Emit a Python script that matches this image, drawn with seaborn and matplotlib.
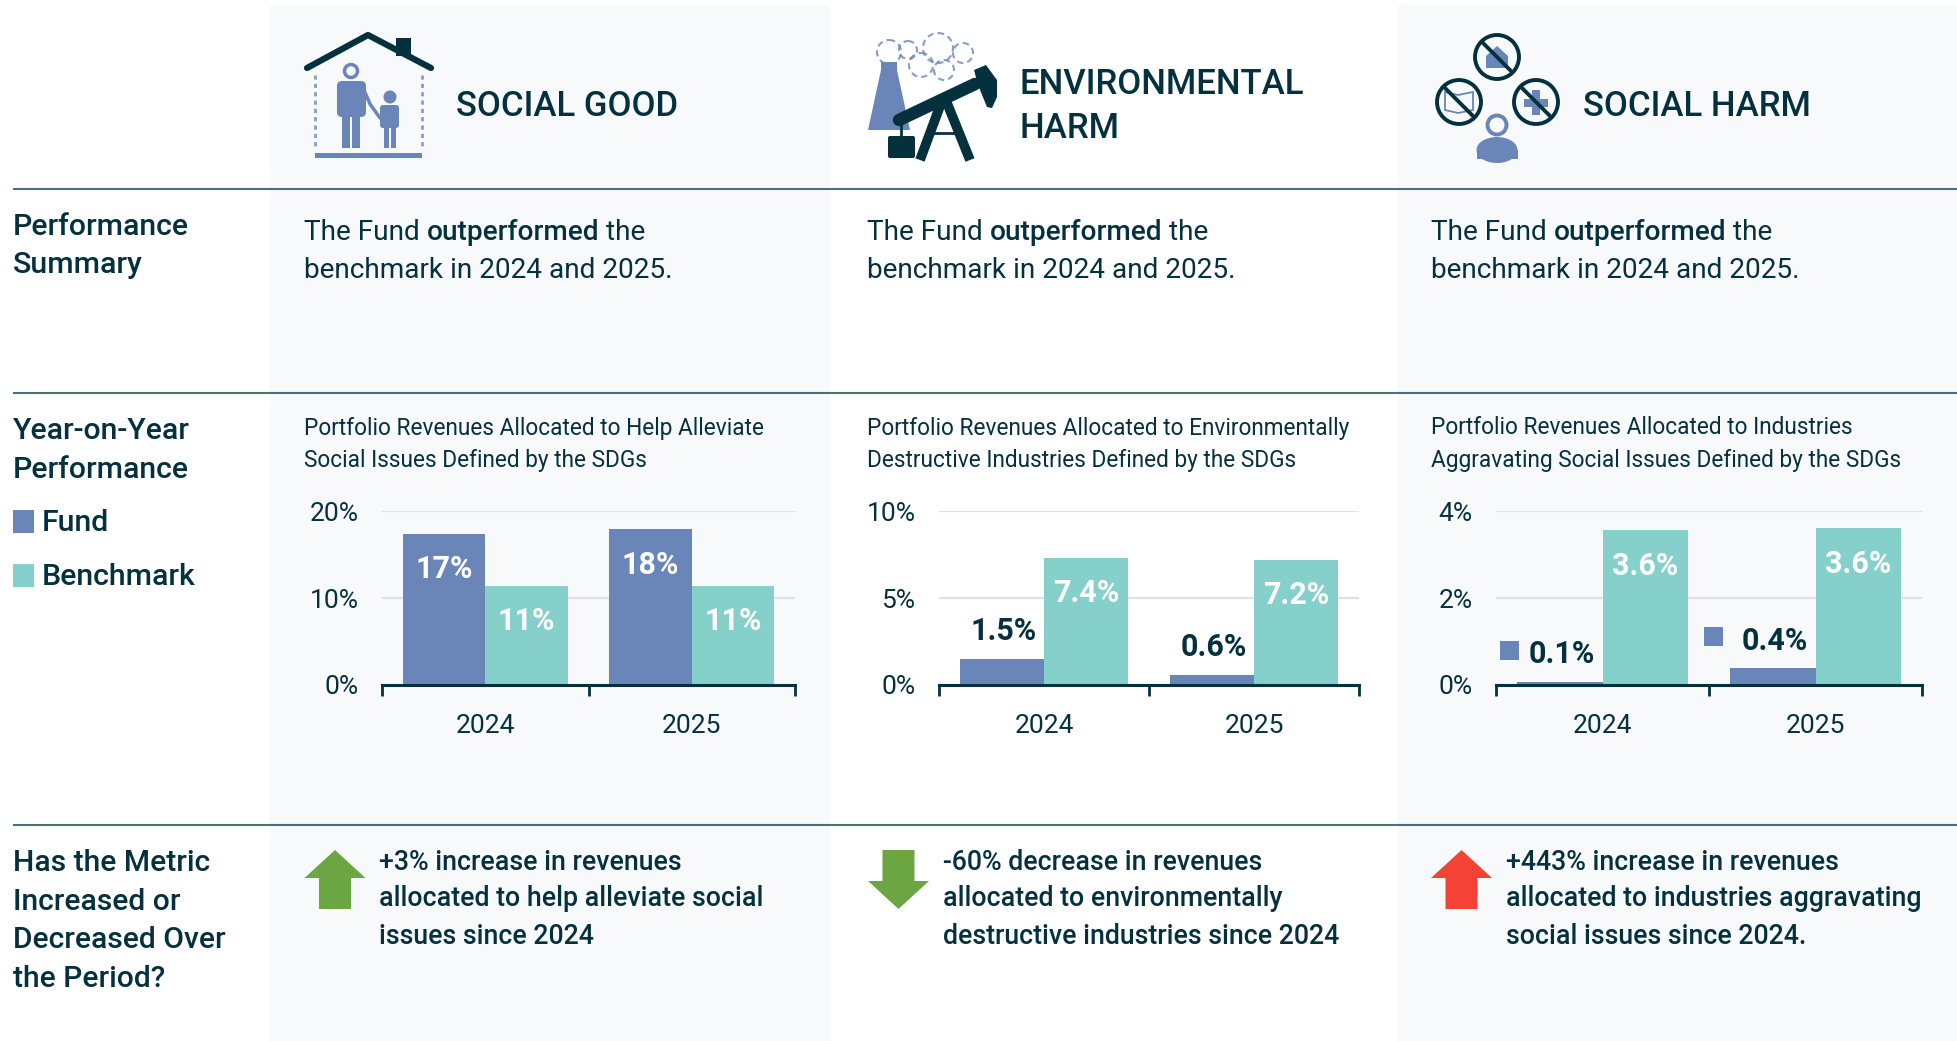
import matplotlib
matplotlib.use("Agg")
import matplotlib.pyplot as plt
import pandas as pd
import seaborn as sns
from matplotlib.patches import Circle, Ellipse, FancyBboxPatch, Polygon, Rectangle

W, H = 1957, 1041
DARK = "#05313f"
FUND = "#6a86b8"
BENCH = "#86d0cc"
PANEL = "#f7f9fb"
RULE = "#4f6f76"

years = ["2024", "2025"]
series_names = ["Fund", "Benchmark"]

good_fund = [17.4, 17.9]
good_bench = [11.4, 11.4]
good_fund_labels = ["17%", "18%"]
good_bench_labels = ["11%", "11%"]
good_ticks = [0, 10, 20]

env_fund = [1.5, 0.6]
env_bench = [7.3, 7.2]
env_fund_labels = ["1.5%", "0.6%"]
env_bench_labels = ["7.4%", "7.2%"]
env_ticks = [0, 5, 10]

harm_fund = [0.07, 0.38]
harm_bench = [3.56, 3.6]
harm_fund_labels = ["0.1%", "0.4%"]
harm_bench_labels = ["3.6%", "3.6%"]
harm_ticks = [0, 2, 4]

sns.set_theme(style="white")
plt.rcParams["font.family"] = ["Roboto", "DejaVu Sans"]

fig = plt.figure(figsize=(W / 100, H / 100), dpi=100, facecolor="white")
bg = fig.add_axes([0, 0, 1, 1], zorder=0)
bg.set_xlim(0, W)
bg.set_ylim(H, 0)
bg.axis("off")
renderer = fig.canvas.get_renderer()


def rich_line(x, y, pieces, size):
    # pieces of differing weight, laid out one after the other
    for txt, weight in pieces:
        t = bg.text(x, y, txt, fontsize=size, fontweight=weight, color=DARK, va="center", ha="left")
        x += t.get_window_extent(renderer).width


def lines_of_text(x, ys, rows, size, weight="normal"):
    for y, row in zip(ys, rows):
        bg.text(x, y, row, fontsize=size, fontweight=weight, color=DARK, va="center", ha="left")


def bar_panel(left, right, fund, bench, ticks, fund_labels, bench_labels, fund_inside=True):
    top, base = 511, 685
    ax = fig.add_axes([left / W, 1 - base / H, (right - left) / W, (base - top) / H], zorder=2)
    ax.patch.set_alpha(0)
    df = pd.DataFrame(
        {
            "year": years + years,
            "series": [series_names[0]] * 2 + [series_names[1]] * 2,
            "value": fund + bench,
        }
    )
    sns.barplot(
        data=df,
        x="year",
        y="value",
        hue="series",
        palette=[FUND, BENCH],
        saturation=1,
        linewidth=0,
        legend=False,
        ax=ax,
    )
    ax.set_xlim(-0.5, 1.5)
    ax.set_ylim(ticks[0], ticks[-1])
    ax.set_xlabel("")
    ax.set_ylabel("")
    ax.set_yticks(ticks)
    ax.set_yticklabels([f"{t}%" for t in ticks], fontsize=19, color=DARK)
    ax.grid(axis="y", color="#dfe2e5", linewidth=1.6)
    ax.set_axisbelow(True)
    ax.tick_params(axis="y", length=0, pad=17)
    ax.set_xticks([0, 1])
    ax.set_xticklabels(years, fontsize=19, color=DARK)
    ax.set_xticks([-0.5, 0.5, 1.5], minor=True)
    ax.tick_params(axis="x", which="major", length=0, pad=21)
    ax.tick_params(axis="x", which="minor", length=8, width=2, color=DARK, bottom=True, direction="out")
    sns.despine(ax=ax, left=True)
    ax.spines["bottom"].set_color(DARK)
    ax.spines["bottom"].set_linewidth(2.2)

    for bar, label in zip(ax.containers[1], bench_labels):
        ax.annotate(
            label,
            (bar.get_x() + bar.get_width() / 2, bar.get_height()),
            xytext=(0, -25.5),
            textcoords="offset points",
            ha="center",
            va="center",
            color="white",
            fontsize=22,
            fontweight="bold",
        )
    for bar, label in zip(ax.containers[0], fund_labels):
        cx = bar.get_x() + bar.get_width() / 2
        if fund_inside:
            ax.annotate(
                label,
                (cx, bar.get_height()),
                xytext=(0, -25.5),
                textcoords="offset points",
                ha="center",
                va="center",
                color="white",
                fontsize=22,
                fontweight="bold",
            )
        else:
            ax.annotate(
                label,
                (cx, bar.get_height()),
                xytext=(1, 20),
                textcoords="offset points",
                ha="center",
                va="center",
                color=DARK,
                fontsize=22,
                fontweight="bold",
            )
    return ax


# panels and rules
bg.add_patch(Rectangle((270, 5), 560, H - 5, color=PANEL, lw=0))
bg.add_patch(Rectangle((1398, 5), W - 1398, H - 5, color=PANEL, lw=0))
for y in [189, 393, 825]:
    bg.plot([13, W], [y, y], color=RULE, lw=1.5, solid_capstyle="butt")

# row headings
lines_of_text(13, [227, 265], ["Performance", "Summary"], 21.8, "medium")
lines_of_text(13, [431, 470], ["Year-on-Year", "Performance"], 21.8, "medium")
lines_of_text(42, [523, 577], series_names, 21.8, "medium")
bg.add_patch(Rectangle((13, 510), 21, 23, color=FUND, lw=0))
bg.add_patch(Rectangle((13, 564), 21, 23, color=BENCH, lw=0))
lines_of_text(
    13, [863, 902, 940, 979], ["Has the Metric", "Increased or", "Decreased Over", "the Period?"], 21.6, "medium"
)

# column headings
lines_of_text(456, [106], ["SOCIAL GOOD"], 25, "medium")
lines_of_text(1020, [84, 128], ["ENVIRONMENTAL", "HARM"], 25, "medium")
lines_of_text(1583, [106], ["SOCIAL HARM"], 25, "medium")

# house icon
bg.plot([307, 368, 431], [68, 35, 68], color=DARK, lw=4.5, solid_capstyle="round", solid_joinstyle="round")
bg.add_patch(Rectangle((396, 38), 15, 18, color=DARK, lw=0))
for x in [315, 422]:
    bg.plot([x, x], [75, 146], color=FUND, lw=2, ls=(0, (1.5, 1.5)), alpha=0.8)
bg.add_patch(Rectangle((315, 153), 107, 5, color=FUND, lw=0))
bg.add_patch(Circle((351, 71), 6.5, fc="none", ec=FUND, lw=2.5))
bg.add_patch(FancyBboxPatch((337, 81), 29, 36, boxstyle="round,pad=0,rounding_size=5", color=FUND, lw=0))
bg.add_patch(Rectangle((342, 110), 8, 38, color=FUND, lw=0))
bg.add_patch(Rectangle((352, 110), 8, 38, color=FUND, lw=0))
bg.plot([364, 370, 380], [90, 104, 118], color=FUND, lw=2.5)
bg.add_patch(Circle((390, 97), 6.5, color=FUND, lw=0))
bg.add_patch(FancyBboxPatch((380, 105), 19, 23, boxstyle="round,pad=0,rounding_size=3", color=FUND, lw=0))
bg.add_patch(Rectangle((384, 124), 5, 24, color=FUND, lw=0))
bg.add_patch(Rectangle((391, 124), 5, 24, color=FUND, lw=0))

# chimney and oil pump icon
bg.add_patch(Polygon([(881, 70), (897, 70), (910, 130), (868, 130)], color=FUND, lw=0))
bg.add_patch(Rectangle((881, 62), 16, 8, color=FUND, lw=0))
for cx, cy, r in [(889, 52, 12), (908, 50, 9), (938, 48, 15), (963, 53, 10), (921, 65, 12), (944, 70, 10)]:
    bg.add_patch(Circle((cx, cy), r, fc="none", ec=FUND, lw=1.5, ls=(0, (3, 2)), alpha=0.8))
bg.plot([899, 975], [120, 84], color=DARK, lw=9, solid_capstyle="round")
bg.add_patch(
    Polygon([(974, 70), (986, 65), (997, 80), (997, 97), (992, 108), (987, 107), (978, 85)], color=DARK, lw=0)
)
bg.plot([943, 920], [98, 160], color=DARK, lw=7, solid_capstyle="butt")
bg.plot([945, 970], [98, 160], color=DARK, lw=7, solid_capstyle="butt")
bg.plot([934, 956], [133, 133], color=DARK, lw=2)
bg.plot([901, 901], [120, 136], color=DARK, lw=2)
bg.add_patch(FancyBboxPatch((888, 136), 27, 22, boxstyle="round,pad=0,rounding_size=2", color=DARK, lw=0))
bg.add_patch(Circle((945, 98), 2.5, color=FUND, lw=0))
bg.add_patch(Circle((901, 119), 2.5, color=FUND, lw=0))

# prohibited signs icon
for cx, cy in [(1497, 57), (1459, 102), (1536, 102)]:
    bg.add_patch(Circle((cx, cy), 22, fc="none", ec=DARK, lw=2.8, zorder=4))
    bg.plot([cx - 15, cx + 15], [cy - 15, cy + 15], color=DARK, lw=2.8, zorder=4)
bg.add_patch(Polygon([(1486, 56), (1497, 46), (1508, 56), (1508, 68), (1486, 68)], color=FUND, lw=0))
bg.add_patch(Polygon([(1445, 92), (1458, 95), (1473, 92), (1473, 110), (1458, 113), (1445, 110)], fc="none", ec=FUND, lw=1.3))
bg.add_patch(Rectangle((1532, 90), 8, 25, color=FUND, lw=0))
bg.add_patch(Rectangle((1524, 99), 24, 8, color=FUND, lw=0))
bg.add_patch(Circle((1497, 125), 9.5, fc="none", ec=FUND, lw=2.8))
bg.add_patch(Ellipse((1497, 150), 41, 26, color=FUND, lw=0))
bg.add_patch(Rectangle((1477, 150), 41, 9, color=FUND, lw=0))

# summary text
for x in [304, 867, 1431]:
    rich_line(x, 232, [("The Fund ", "normal"), ("outperformed", "medium"), (" the", "normal")], 20.2)
    lines_of_text(x, [270], ["benchmark in 2024 and 2025."], 20.2)

# chart headings
lines_of_text(304, [428, 460], ["Portfolio Revenues Allocated to Help Alleviate", "Social Issues Defined by the SDGs"], 16.3)
lines_of_text(
    867, [428, 460], ["Portfolio Revenues Allocated to Environmentally", "Destructive Industries Defined by the SDGs"], 16.3
)
lines_of_text(
    1431, [428, 460], ["Portfolio Revenues Allocated to Industries", "Aggravating Social Issues Defined by the SDGs"], 16.3
)

# bar charts
bar_panel(382, 795, good_fund, good_bench, good_ticks, good_fund_labels, good_bench_labels)
bar_panel(939, 1359, env_fund, env_bench, env_ticks, env_fund_labels, env_bench_labels, fund_inside=False)
ax_harm = bar_panel(1496, 1922, harm_fund, harm_bench, harm_ticks, harm_fund_labels, harm_bench_labels, fund_inside=False)

# little key squares beside the third chart's fund labels
fig.canvas.draw()
for bar, dx in zip(ax_harm.containers[0], [-50, -59]):
    px, py = ax_harm.transData.transform((bar.get_x() + bar.get_width() / 2, bar.get_height()))
    bg.add_patch(Rectangle((px + dx - 9.5, H - py - 41), 19, 19, color=FUND, lw=0))


def arrow(x, color, up=True):
    left, right, mid = x, x + 61, x + 30.5
    s1, s2 = x + 14.5, x + 46.5
    if up:
        pts = [(mid, 850), (right, 878), (s2, 878), (s2, 909), (s1, 909), (s1, 878), (left, 878)]
    else:
        pts = [(mid, 909), (right, 881), (s2, 881), (s2, 850), (s1, 850), (s1, 881), (left, 881)]
    bg.add_patch(Polygon(pts, color=color, lw=0, joinstyle="round"))


arrow(304.5, "#6ca643")
arrow(868, "#6ca643", up=False)
arrow(1431, "#f44336")

lines_of_text(
    379,
    [862, 899, 937],
    ["+3% increase in revenues", "allocated to help alleviate social", "issues since 2024"],
    19.3,
    "medium",
)
lines_of_text(
    943,
    [862, 899, 937],
    ["-60% decrease in revenues", "allocated to environmentally", "destructive industries since 2024"],
    19.3,
    "medium",
)
lines_of_text(
    1506,
    [862, 899, 937],
    ["+443% increase in revenues", "allocated to industries aggravating", "social issues since 2024."],
    19.3,
    "medium",
)

fig.savefig("out.png", dpi=100, facecolor="white")
